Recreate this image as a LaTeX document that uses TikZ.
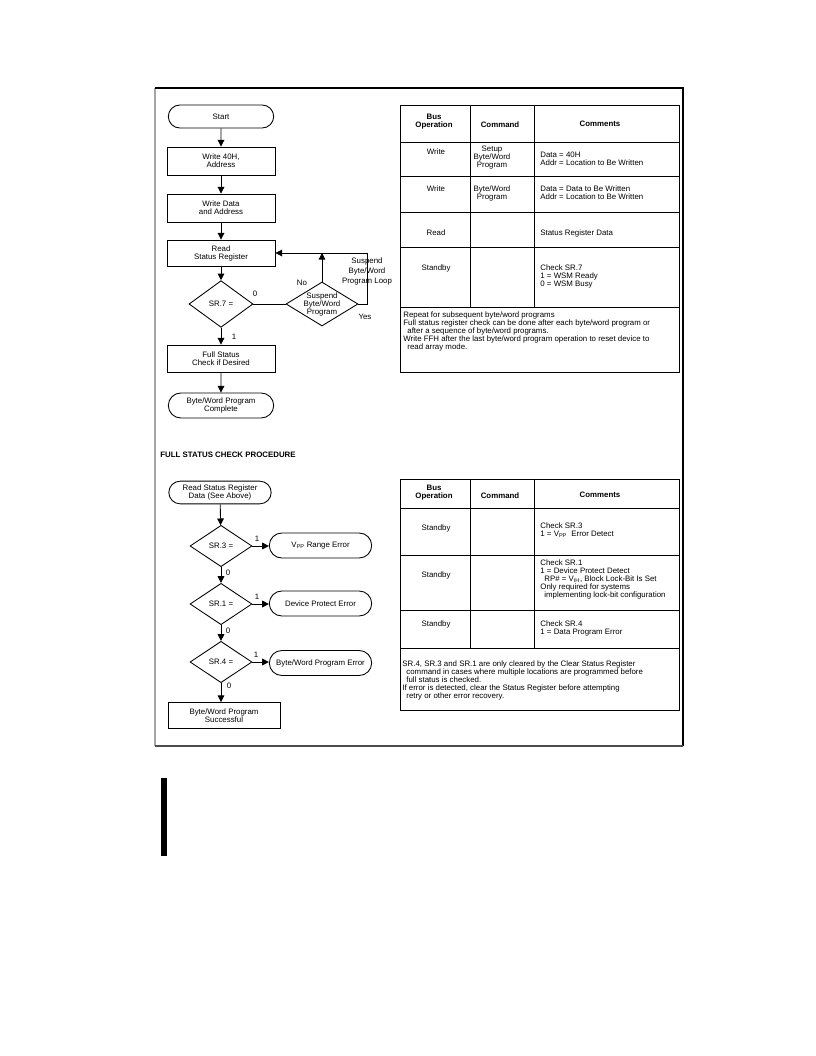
\documentclass[tikz,border=0pt]{standalone}
\usepackage{fontspec}
\setmainfont{Liberation Sans}
\usepackage{tikz}
\usetikzlibrary{arrows.meta,shapes.geometric,shapes.misc}
\newcommand{\dsfont}{\fontsize{5.9}{6}\selectfont}
\tikzset{
  procbox/.style = {draw,rectangle,minimum width=81pt,minimum height=21pt,inner sep=1pt,align=center},
  termbox/.style = {draw,rounded rectangle,minimum width=81pt,minimum height=17.25pt,inner sep=1pt,align=center},
  decbox/.style  = {draw,diamond,minimum width=48pt,minimum height=35pt,inner sep=0pt,align=center},
  lowdec/.style  = {decbox,minimum width=46.5pt,minimum height=31pt},
  errterm/.style = {termbox,minimum width=78.75pt,minimum height=18.75pt},
  flowarr/.style = {-{Triangle[length=5pt,width=5pt]}},
  flowlbl/.style = {inner sep=0pt},
  tblhead/.style = {anchor=north,align=center,inner sep=0pt,font=\dsfont\bfseries},
  tblmid/.style  = {anchor=north,align=center,inner sep=0pt},
  tbltxt/.style  = {anchor=north west,align=left,inner sep=0pt}
}
\newcommand{\bustable}[5]{%
  \draw (400,#1) rectangle (679,#4);
  \draw (400,#2) -- (679,#2);
  \draw (400,#3) -- (679,#3);
  \draw (470,#1) -- (470,#3);
  \draw (534,#1) -- (534,#3);
  \foreach \ry in {#5} {\draw (400,\ry) -- (679,\ry);}
}
\newcommand{\bushead}[2]{%
  \node[tblhead] (#1bus) at (434,#2) {Bus\\Operation};
  \node[tblhead] (#1cmd) at (500,#2+7) {Command};
  \node[tblhead] (#1cmt) at (600,#2+7) {Comments};
}
\begin{document}
\begin{tikzpicture}[x=0.75pt,y=-0.75pt,line width=0.65pt,font=\dsfont]
  \useasboundingbox (0,0) rectangle (816,1056);
  \draw[gray!70,line width=1.5pt] (155,88) -- (155,746);
  \draw[line width=0.9pt] (155,88) -- (683,88) -- (683,746);
  \draw[gray!60!black,line width=1pt] (155,746) -- (683,746);

  \node[termbox] (start) at (221,116.5) {Start};
  \node[procbox] (wcmd) at (221,161) {Write 40H,\\Address};
  \node[procbox] (wdat) at (221,208) {Write Data\\and Address};
  \node[procbox,minimum height=19.5pt] (rdsr) at (221,253) {Read\\Status Register};
  \node[decbox] (srseven) at (221,304) {SR.7 =};
  \node[decbox,aspect=1.6,minimum width=54pt,minimum height=33pt,inner sep=-1pt] (susp) at (322,304) {Suspend\\Byte/Word\\Program};
  \node[procbox,minimum height=20.25pt] (fsc) at (221,358.5) {Full Status\\Check if Desired};
  \node[termbox,minimum height=18.75pt] (pgmdone) at (221,405.5) {Byte/Word Program\\Complete};
  \draw[flowarr] (start) -- (wcmd);
  \draw[flowarr] (wcmd) -- (wdat);
  \draw[flowarr] (wdat) -- (rdsr);
  \draw[flowarr] (rdsr) -- (srseven);
  \draw[flowarr] (srseven) -- (fsc);
  \draw[flowarr] (fsc) -- (pgmdone);
  \draw (srseven.east) -- (susp.west);
  \draw[flowarr] (susp.north) -- (susp.north |- rdsr.east);
  \coordinate (lpcorner) at (367,253);
  \draw[flowarr] (susp.east) -| (lpcorner) -- (rdsr.east);
  \node[flowlbl] (lbzero) at (255,294) {0};
  \node[flowlbl] (lbone) at (234,337) {1};
  \node[flowlbl] (lbno) at (302,283) {No};
  \node[flowlbl] (lbyes) at (365,317) {Yes};
  \node[flowlbl,align=center,font=\fontsize{5.9}{7.5}\selectfont] (lbloop) at (367,271) {Suspend\\Byte/Word\\Program Loop};

  \bustable{105}{142}{307}{372}{176,212,247}
  \bushead{a}{114}
  \node[tblmid] (aop1) at (436,148) {Write};
  \node[tblmid] (acmd1) at (492,146) {Setup\\Byte/Word\\Program};
  \node[tbltxt] (acmt1) at (540,152) {Data = 40H\\Addr = Location to Be Written};
  \node[tblmid] (aop2) at (436,185) {Write};
  \node[tblmid] (acmd2) at (492,185) {Byte/Word\\Program};
  \node[tbltxt] (acmt2) at (540,185) {Data = Data to Be Written\\Addr = Location to Be Written};
  \node[tblmid] (aop3) at (436,229) {Read};
  \node[tbltxt] (acmt3) at (540,229) {Status Register Data};
  \node[tblmid] (aop4) at (436,264) {Standby};
  \node[tbltxt] (acmt4) at (540,264) {Check SR.7\\1 = WSM Ready\\0 = WSM Busy};
  \node[tbltxt] (anote) at (403,311) {Repeat for subsequent byte/word programs\\Full status register check can be done after each byte/word program or\\\hspace*{3pt}after a sequence of byte/word programs.\\Write FFH after the last byte/word program operation to reset device to\\\hspace*{3pt}read array mode.};

  \node[flowlbl,anchor=west,font=\dsfont\bfseries] (fschead) at (160,455) {FULL STATUS CHECK PROCEDURE};

  \node[termbox,minimum width=78.75pt,minimum height=17pt] (rdsrd) at (220,492.5) {Read Status Register\\Data (See Above)};
  \node[lowdec] (srthree) at (221,546) {SR.3 =};
  \node[lowdec] (srone) at (221,604) {SR.1 =};
  \node[lowdec] (srfour) at (221,662) {SR.4 =};
  \node[errterm] (vpperr) at (320.5,545.5) {V\textsubscript{PP} Range Error};
  \node[errterm] (dperr) at (320.5,603.5) {Device Protect Error};
  \node[errterm] (bwerr) at (320.5,663) {Byte/Word Program Error};
  \node[procbox,minimum width=84pt,minimum height=19.5pt] (succ) at (224,715.5) {Byte/Word Program\\Successful};
  \draw[flowarr] (rdsrd) -- (srthree);
  \draw[flowarr] (srthree) -- (srone);
  \draw[flowarr] (srone) -- (srfour);
  \draw[flowarr] (srfour.south) -- (srfour.south |- succ.north);
  \draw[flowarr] (srthree.east) -- (srthree.east -| vpperr.west);
  \draw[flowarr] (srone.east) -- (srone.east -| dperr.west);
  \draw[flowarr] (srfour.east) -- (srfour.east -| bwerr.west);
  \node[flowlbl] (lbthree) at (257,539) {1};
  \node[flowlbl] (lbonea) at (257,597) {1};
  \node[flowlbl] (lbfour) at (256,655) {1};
  \node[flowlbl] (lbza) at (228,573) {0};
  \node[flowlbl] (lbzb) at (228,631) {0};
  \node[flowlbl] (lbzc) at (229,686) {0};

  \bustable{479}{508}{648}{710}{555,610}
  \bushead{b}{485}
  \node[tblmid] (bop1) at (436,524) {Standby};
  \node[tbltxt] (bcmt1) at (540,522) {Check SR.3\\1 = V\textsubscript{PP}\ \ Error Detect};
  \node[tblmid] (bop2) at (436,571) {Standby};
  \node[tbltxt] (bcmt2) at (540,559) {Check SR.1\\1 = Device Protect Detect\\\hspace*{3pt}RP\# = V\textsubscript{IH}, Block Lock-Bit Is Set\\Only required for systems\\\hspace*{3pt}implementing lock-bit configuration};
  \node[tblmid] (bop3) at (436,620) {Standby};
  \node[tbltxt] (bcmt3) at (540,620) {Check SR.4\\1 = Data Program Error};
  \node[tbltxt] (bnote) at (402,660) {SR.4, SR.3 and SR.1 are only cleared by the Clear Status Register\\\hspace*{3pt}command in cases where multiple locations are programmed before\\\hspace*{3pt}full status is checked.\\If error is detected, clear the Status Register before attempting\\\hspace*{3pt}retry or other error recovery.};

  \fill (161,778) rectangle (167,856);
\end{tikzpicture}
\end{document}
